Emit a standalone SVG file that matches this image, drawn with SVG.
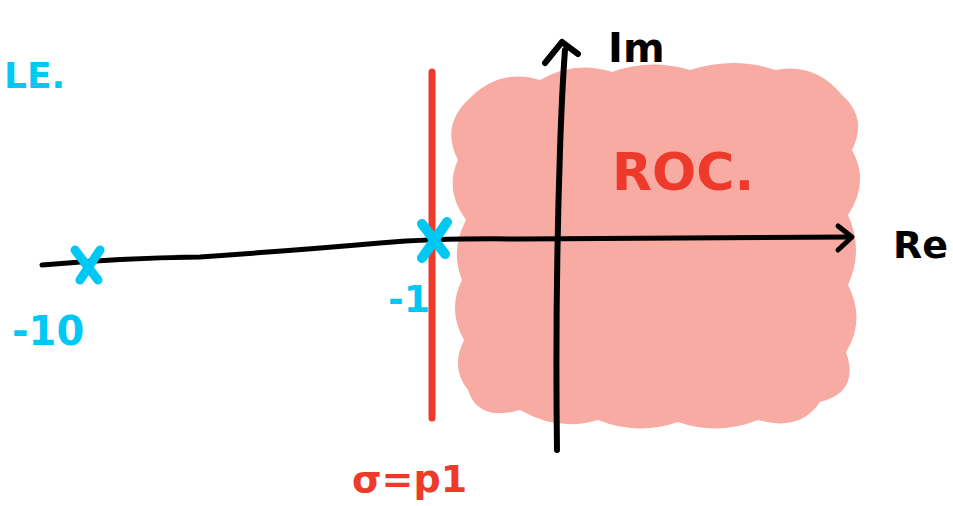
<svg xmlns="http://www.w3.org/2000/svg" width="953" height="506" viewBox="0 0 953 506">
<style>
.ink{fill:none;stroke-linecap:round;stroke-linejoin:round}
.blk{stroke:#000}
.cyan{stroke:#00C8F4}
.t{font-family:"DejaVu Sans","Liberation Sans",sans-serif;font-weight:bold}
</style>
<rect width="953" height="506" fill="#fff"/>
<g id="roc">
<path d="M 470,98 Q 500,68 540,80 Q 575,60 612,72 Q 650,58 690,70 Q 735,56 775,70 Q 815,62 842,95 Q 868,118 852,150 Q 870,182 848,215 Q 864,250 848,285 Q 866,320 846,352 Q 860,392 820,402 Q 800,432 758,420 Q 718,436 678,422 Q 638,436 598,420 Q 558,432 520,410 Q 478,422 468,390 Q 450,368 464,340 Q 447,310 462,280 Q 450,250 466,220 Q 444,190 458,160 Q 440,125 470,98 Z" fill="#F7ABA3"/>
<text class="t" x="612" y="190" font-size="52" fill="#EE3A2A">ROC.</text>
</g>
<g id="sigma-line">
<line x1="432" y1="72" x2="432" y2="418" stroke="#EE3A2A" stroke-width="7" stroke-linecap="round"/>
<text class="t" x="352" y="492" font-size="38" fill="#EE3A2A">σ=p1</text>
</g>
<g id="axes">
<path class="ink blk" stroke-width="5" d="M 42,265 Q 120,258 200,257 Q 300,250 380,243 Q 440,238 520,239 L 850,237"/>
<path class="ink blk" stroke-width="5" d="M 838,226 L 852,237 L 838,250"/>
<path class="ink blk" stroke-width="6" d="M 557,450 Q 555,300 560,150 Q 562,90 565,50"/>
<path class="ink blk" stroke-width="6" d="M 545,63 L 562,42 L 578,54"/>
<text class="t" x="608" y="62" font-size="40" fill="#000">Im</text>
<text class="t" x="893" y="258" font-size="38" fill="#000">Re</text>
</g>
<g id="pole-10">
<path class="ink cyan" stroke-width="9" d="M 75,250 L 98,280 M 100,250 L 80,280"/>
<text class="t" x="12" y="345" font-size="40" fill="#00C8F4">-10</text>
</g>
<g id="pole-1">
<path class="ink cyan" stroke-width="10" d="M 422,224 L 445,254 M 447,222 L 422,258"/>
<text class="t" x="388" y="312" font-size="38" fill="#00C8F4">-1</text>
</g>
<g id="label-stable">
<text class="t" x="4" y="88" font-size="36" fill="#00C8F4">LE.</text>
</g>
</svg>
